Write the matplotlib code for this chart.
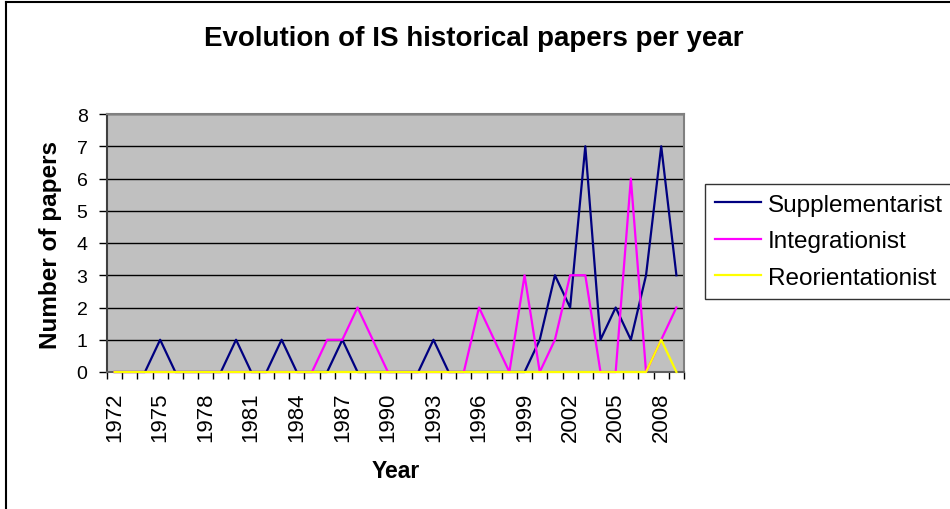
import numpy as np
import matplotlib.pyplot as plt
from matplotlib.lines import Line2D

plt.rcParams['font.family'] = ['Liberation Sans', 'DejaVu Sans']

years = list(range(1972, 2010))
supplementarist = [0, 0, 0, 1, 0, 0, 0, 0, 1, 0, 0, 1, 0, 0, 0, 1, 0, 0, 0, 0,
                   0, 1, 0, 0, 0, 0, 0, 0, 1, 3, 2, 7, 1, 2, 1, 3, 7, 3]
integrationist = [0, 0, 0, 0, 0, 0, 0, 0, 0, 0, 0, 0, 0, 0, 1, 1, 2, 1, 0, 0,
                  0, 0, 0, 0, 2, 1, 0, 3, 0, 1, 3, 3, 0, 0, 6, 0, 1, 2]
reorientationist = [0] * 36 + [1, 0]
label_years = years[::3]

W, H = 950, 510
fig = plt.figure(figsize=(9.5, 5.1), dpi=100)
ax = fig.add_axes([107 / W, 1 - 373 / H, (684 - 107) / W, (373 - 115) / H])
ax.set_facecolor('#C0C0C0')

x = np.arange(len(years))
ax.plot(x, supplementarist, color='#000080', lw=1.6, label='Supplementarist',
        zorder=3, clip_on=False)
ax.plot(x, integrationist, color='#FF00FF', lw=1.6, label='Integrationist',
        zorder=3.1, clip_on=False)
ax.plot(x, reorientationist, color='#FFFF00', lw=1.6, label='Reorientationist',
        zorder=3.2, clip_on=False)

ax.set_xlim(-0.5, len(years) - 0.5)
ax.set_ylim(0, 8)
ax.set_yticks(range(0, 9))
ax.yaxis.grid(True, color='black', lw=1.0)
ax.set_axisbelow(True)
ax.tick_params(axis='y', direction='out', length=6, width=1, pad=8, labelsize=14)

ax.set_xticks([years.index(y) for y in label_years])
ax.set_xticklabels([str(y) for y in label_years], rotation=90, fontsize=16)
ax.set_xticks(np.arange(-0.5, len(years), 1), minor=True)
ax.tick_params(axis='x', which='major', length=0, pad=14)
ax.tick_params(axis='x', which='minor', direction='out', length=5, width=1)

for s in ['top', 'right']:
    ax.spines[s].set_color('#808080')
    ax.spines[s].set_linewidth(1.5)
ax.spines['left'].set_color('#404040')
ax.spines['left'].set_linewidth(1.5)
ax.spines['bottom'].set_color('#606060')
ax.spines['bottom'].set_linewidth(1.5)

fig.text(474 / W, 1 - 46 / H, 'Evolution of IS historical papers per year',
         ha='center', va='baseline', fontsize=20, fontweight='bold')
fig.text(51 / W, 1 - 245 / H, 'Number of papers', rotation=90,
         ha='center', va='center', fontsize=17.5, fontweight='bold')
fig.text(396 / W, 1 - 472 / H, 'Year', ha='center', va='center',
         fontsize=16.5, fontweight='bold')

leg = ax.legend(loc='upper left', bbox_to_anchor=(705 / W, 1 - 185 / H),
                bbox_transform=fig.transFigure, borderaxespad=0, fontsize=17.5,
                frameon=True, fancybox=False, handlelength=1.9,
                handletextpad=0.3, borderpad=0.4, labelspacing=0.6)
leg.get_frame().set_edgecolor('black')
leg.get_frame().set_linewidth(1.0)

fig.add_artist(Line2D([6 / W, 6 / W], [0, 1 - 3 / H], color='black', lw=1.5))
fig.add_artist(Line2D([6 / W, 1], [1 - 3 / H, 1 - 3 / H], color='black', lw=1.5))

fig.savefig('out.png', dpi=100)
